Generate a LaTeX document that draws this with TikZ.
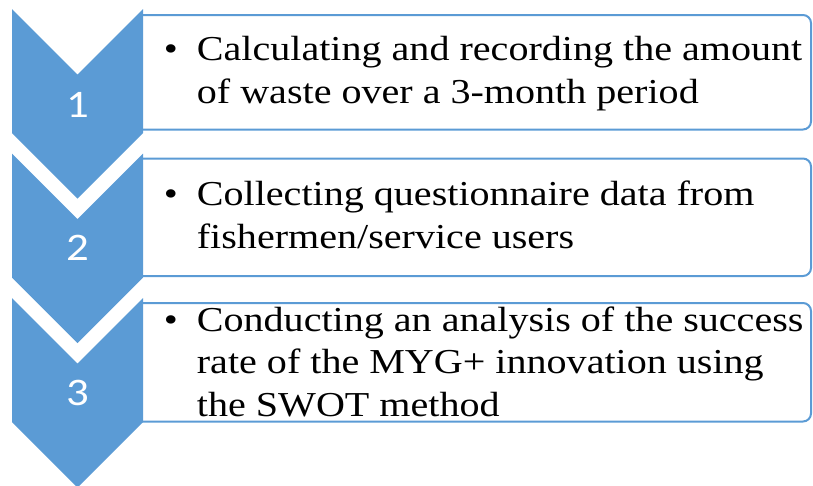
\documentclass[tikz,border=0pt]{standalone}
\usepackage{fontspec}
\setmainfont{Liberation Serif}
\newfontfamily\boxfont[FakeStretch=1.145]{Liberation Serif}
\newfontfamily\numfont[FakeStretch=1.15]{Carlito}
\definecolor{chevblue}{RGB}{91,155,213}
\begin{document}
\begin{tikzpicture}[x=1pt,y=-1pt,
  chevron/.style={fill=chevblue,draw=none},
  stepbox/.style={draw=chevblue,line width=2pt,fill=white,rounded corners=8pt},
  steptext/.style={anchor=base west,inner sep=0pt,align=left,
    font=\boxfont\fontsize{35}{42.5}\selectfont},
  stepnum/.style={text=white,inner sep=0pt,font=\numfont\fontsize{39}{39}\selectfont}]
\useasboundingbox (0,0) rectangle (813,485);

% text boxes (left edge hidden under the chevrons)
\draw[stepbox] (140,15) -- (811,15) -- (811,129.5) -- (140,129.5);
\draw[stepbox] (140,158.5) -- (811,158.5) -- (811,276) -- (140,276);
\draw[stepbox] (140,303) -- (811,303) -- (811,421.5) -- (140,421.5);

% chevrons: top T, notch T+65.5, shoulder T+124, tip T+189.5
\foreach \T in {9,153.5,298}{
  \fill[chevron] (12,\T) -- (77.5,\T+65.5) -- (143,\T) -- (143,\T+124)
    -- (77.5,\T+189.5) -- (12,\T+124) -- cycle;
}

% step numbers
\node[stepnum] (n1) at (77.5,105) {1};
\node[stepnum] (n2) at (77.5,247.5) {2};
\node[stepnum] (n3) at (77.5,392.5) {3};

% bulleted descriptions (anchored on the baseline of the last line)
\newcommand{\stepbullet}{\llap{\textbullet\hspace{19pt}}}
\node[steptext] (t1) at (196.7,103)
  {\stepbullet Calculating and recording the amount\\of waste over a 3-month period};
\node[steptext] (t2) at (196.7,248)
  {\stepbullet Collecting questionnaire data from\\fishermen/service users};
\node[steptext] (t3) at (196.7,416)
  {\stepbullet Conducting an analysis of the success\\rate of the MYG+ innovation using\\the SWOT method};
\end{tikzpicture}
\end{document}
